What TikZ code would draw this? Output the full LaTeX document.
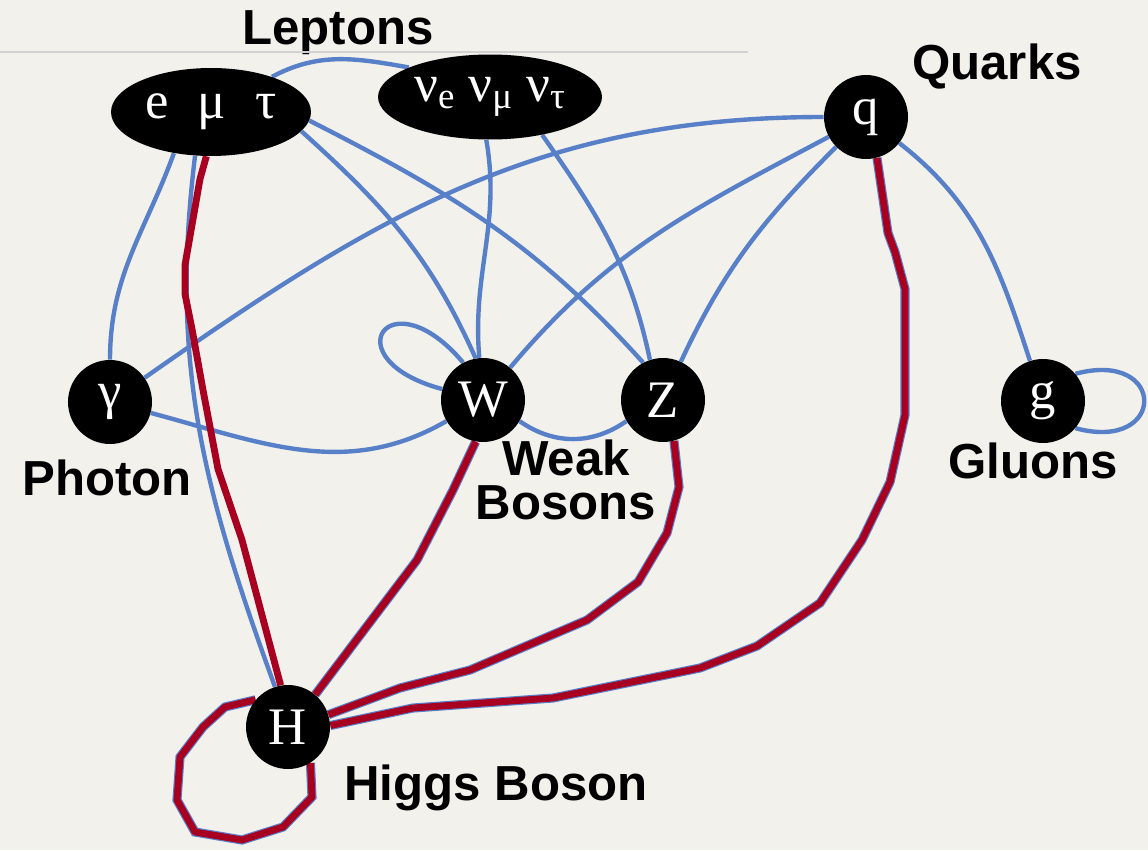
\documentclass[tikz,border=0pt]{standalone}
\usepackage{fontspec}
\newfontfamily\grk{Liberation Serif}
\newfontfamily\tagfont{Liberation Sans}
\usetikzlibrary{shapes.geometric,backgrounds}
\definecolor{paper}{RGB}{243,241,236}
\definecolor{lineblue}{RGB}{88,128,200}
\definecolor{higgsred}{RGB}{168,0,32}

\begin{document}
\begin{tikzpicture}[
    x=0.02cm, y=0.02cm,
    particle/.style={circle,fill=black,text=white,minimum size=1.68cm,inner sep=0pt,
      font=\grk\fontsize{30}{30}\selectfont},
    family/.style={ellipse,fill=black,text=white,inner sep=0pt,
      font=\grk\fontsize{30}{30}\selectfont},
    tag/.style={anchor=base,font=\tagfont\bfseries\fontsize{28}{25}\selectfont},
    link/.style={draw=lineblue,line width=2.5pt},
    higgs/.style={draw=higgsred,line width=3.9pt,line join=round},
    halo/.style={preaction={draw=lineblue,line width=5.2pt}}
]
\useasboundingbox (0,0) rectangle (1148,850);
\begin{scope}[on background layer]
  \fill[paper] (0,0) rectangle (1148,850);
\end{scope}

% particles
\node[family,minimum width=4cm,minimum height=1.76cm] (lep) at (211,738)
    {e\hspace{0.55em}μ\hspace{0.55em}τ};
\node[family,minimum width=4.48cm,minimum height=1.7cm] (nu) at (490,753)
    {ν\textsubscript{e} ν\textsubscript{μ} ν\textsubscript{τ}};
\node[particle] (q) at (866,733) {q};
\node[particle] (gam) at (110,448) {γ};
\node[particle] (w) at (483,450) {W};
\node[particle] (z) at (663,450) {Z};
\node[particle] (g) at (1043,449) {g};
\node[particle] (h) at (288,123) {H};

% names
\node[tag] (leptag) at (338,805) {Leptons};
\node[tag] (quarktag) at (997,770) {Quarks};
\node[tag] (photontag) at (107,355) {Photon};
% base of a two-line node sits on its last line
\node[tag,align=center,inner sep=0pt] (weaktag) at (566,331) {Weak\\Bosons};
\node[tag] (gluontag) at (1033,372) {Gluons};
\node[tag] (higgstag) at (496,50) {Higgs Boson};
\draw[black!18,line width=0.6pt] (0,798) -- (748,798);

\begin{scope}[on background layer]
% leptons
\draw[link] (lep.30) to[out=28,in=170] (nu.160);
\draw[link] (lep.-132) to[out=-110,in=90] (gam);
\draw[link] (lep.-110) to[out=-97,in=110] (h.108);
\draw[link] (lep.-12) to[out=-42,in=114] (w.100);
\draw[link] (lep.-5) to[out=-27,in=132] (z.118);
\draw[link] (nu.-95) to[out=-80,in=95] (w);
\draw[link] (nu.-36) to[out=-55,in=102] (z.108);
% quarks and gluons
\draw[link] (q) to[out=180,in=35] (gam);
\draw[link] (q) to[out=-152,in=50] (w);
\draw[link] (q) to[out=-135,in=65] (z);
\draw[link] (q) to[out=-38,in=108] (g);
\draw[link] (g.40) to[out=15,in=-15,min distance=1.9cm] (g.-40);
% gauge bosons
\draw[link] (w.118) to[out=130,in=165,min distance=2.3cm] (w.165);
\draw[link] (w.-30) to[out=-35,in=-145] (z.-150);
\draw[link] (gam.-15) to[out=-15,in=-150] (w.-150);
% Higgs couplings, traced by hand in red
\draw[higgs] (lep.-96) -- (200,671) -- (185,585) -- (185,556) -- (192,521)
    -- (203,460) -- (218,381) -- (242,310) -- (h.100);
\draw[higgs,halo] (w.-100) -- (453,360) -- (417,290) -- (h.50);
\draw[higgs,halo] (z.-75) -- (679,363) -- (667,317) -- (638,268) -- (587,230)
    -- (470,180) -- (400,162) -- (h.17);
\draw[higgs,halo] (q.-75) -- (888,617) -- (895,598) -- (905,561) -- (905,435)
    -- (890,368) -- (862,310) -- (820,247) -- (757,204) -- (700,182)
    -- (553,152) -- (413,142) -- (h.2);
\draw[higgs,halo] (h.140) -- (225,143) -- (203,123) -- (180,93) -- (177,50)
    -- (195,18) -- (242,10) -- (283,23) -- (312,53) -- (h.-58);
\end{scope}
\end{tikzpicture}
\end{document}
